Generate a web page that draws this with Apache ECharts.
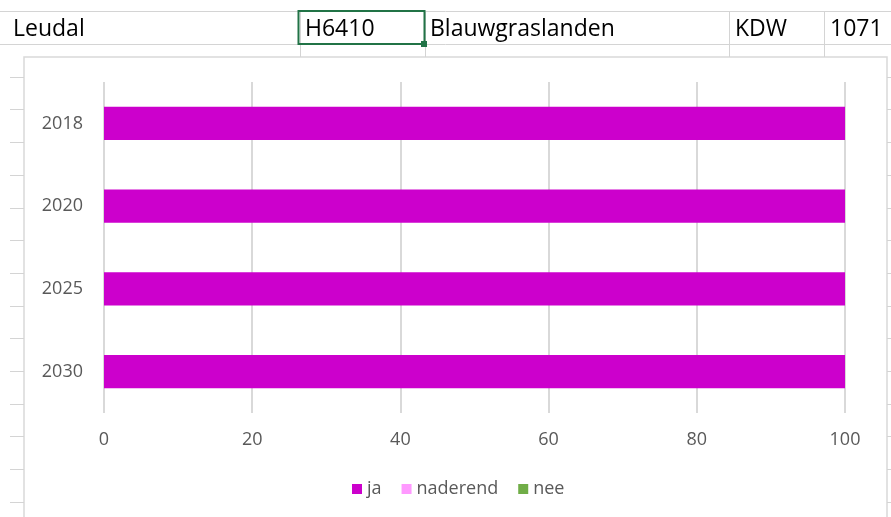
<!DOCTYPE html>
<html>
<head>
<meta charset="utf-8">
<script src="https://cdn.jsdelivr.net/npm/echarts@6/dist/echarts.min.js"></script>
<style>
  html, body { margin: 0; padding: 0; background: #fff; }
  #main { width: 891px; height: 517px; }
</style>
</head>
<body>
<div id="main"></div>
<script>
// data
var years = ['2018', '2020', '2025', '2030'];
var jaData = [100, 100, 100, 100];
var naderendData = [0, 0, 0, 0];
var neeData = [0, 0, 0, 0];
var cellTexts = ['Leudal', 'H6410', 'Blauwgraslanden', 'KDW', '1071'];

var FONT = '"Open Sans", "Noto Sans", sans-serif';
var lineCol = '#d4d4d4';

// spreadsheet stuff around the chart
var sheet = [];
// row borders of the top row
sheet.push({ type: 'line', shape: { x1: 0, y1: 11.5, x2: 891, y2: 11.5 }, style: { stroke: lineCol, lineWidth: 1 } });
sheet.push({ type: 'line', shape: { x1: 0, y1: 44.5, x2: 891, y2: 44.5 }, style: { stroke: lineCol, lineWidth: 1 } });
// column borders
[300, 425, 729, 824].forEach(function (x) {
  sheet.push({ type: 'line', shape: { x1: x + 0.5, y1: 11, x2: x + 0.5, y2: 57 }, style: { stroke: lineCol, lineWidth: 1 } });
});
// row lines showing beside the chart
for (var k = 1; k <= 15; k++) {
  var y = Math.round(44 + 32.7 * k) + 0.5;
  sheet.push({ type: 'line', shape: { x1: 10, y1: y, x2: 24, y2: y }, style: { stroke: lineCol, lineWidth: 1 } });
  sheet.push({ type: 'line', shape: { x1: 887, y1: y, x2: 891, y2: y }, style: { stroke: lineCol, lineWidth: 1 } });
}
// cell texts
var cellX = [13, 305, 430, 735, 830];
cellTexts.forEach(function (t, i) {
  sheet.push({
    type: 'text', x: cellX[i], y: 29,
    style: { text: t, fill: '#000', font: '23px ' + FONT, textVerticalAlign: 'middle' }
  });
});
// selected cell
sheet.push({ type: 'rect', shape: { x: 298.5, y: 11, width: 126, height: 33 }, style: { fill: 'none', stroke: '#217346', lineWidth: 2 } });
sheet.push({ type: 'rect', shape: { x: 421, y: 41, width: 6, height: 6 }, style: { fill: '#217346' } });
// chart area border
sheet.push({ type: 'rect', z: -1, shape: { x: 24, y: 57, width: 863, height: 470 }, style: { fill: 'none', stroke: '#d9d9d9', lineWidth: 1.5 } });

var chart = echarts.init(document.getElementById('main'));
chart.setOption({
  animation: false,
  color: ['#cc00cc', '#ff99ff', '#70ad47'],
  graphic: sheet,
  legend: {
    left: 352,
    top: 480,
    padding: 0,
    icon: 'rect',
    itemWidth: 10,
    itemHeight: 10,
    itemGap: 20,
    textStyle: { color: '#595959', fontSize: 18, fontFamily: FONT },
    data: ['ja', 'naderend', 'nee']
  },
  grid: { left: 104, right: 46, top: 82, bottom: 104 },
  xAxis: {
    type: 'value',
    min: 0,
    max: 100,
    interval: 20,
    axisLine: { show: false },
    axisTick: { show: false },
    axisLabel: { color: '#595959', fontSize: 18, fontFamily: FONT, margin: 18 },
    splitLine: { lineStyle: { color: '#d9d9d9', width: 2 } }
  },
  yAxis: {
    type: 'category',
    inverse: true,
    data: years,
    axisLine: { show: false },
    axisTick: { show: false },
    axisLabel: { color: '#595959', fontSize: 18, fontFamily: FONT, margin: 21 }
  },
  series: [
    { name: 'ja', type: 'bar', stack: 'a', barWidth: '40%', data: jaData },
    { name: 'naderend', type: 'bar', stack: 'a', barWidth: '40%', data: naderendData },
    { name: 'nee', type: 'bar', stack: 'a', barWidth: '40%', data: neeData }
  ]
});
</script>
</body>
</html>
